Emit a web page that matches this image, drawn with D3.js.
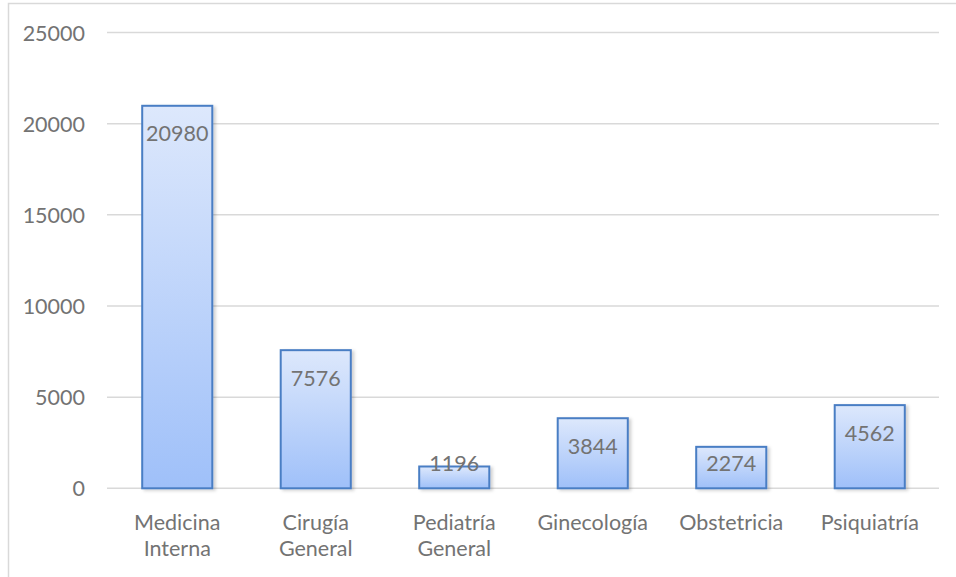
<!DOCTYPE html>
<html><head><meta charset="utf-8">
<script src="https://cdn.jsdelivr.net/npm/d3@7"></script>
<style>html,body{margin:0;padding:0;background:#fff;}svg{display:block;}</style>
</head><body>
<script>
const categories = [["Medicina","Interna"],["Cirugía","General"],["Pediatría","General"],["Ginecología"],["Obstetricia"],["Psiquiatría"]];
const values = [20980, 7576, 1196, 3844, 2274, 4562];
const yTicks = [0, 5000, 10000, 15000, 20000, 25000];

const W = 956, H = 577;
const svg = d3.select("body").append("svg").attr("width", W).attr("height", H);
const defs = svg.append("defs");
const grad = defs.append("linearGradient").attr("id","barGrad").attr("x1",0).attr("y1",0).attr("x2",0).attr("y2",1);
grad.append("stop").attr("offset","0%").attr("stop-color","#dde8fc");
grad.append("stop").attr("offset","100%").attr("stop-color","#9fc0f9");
const f = defs.append("filter").attr("id","shadow").attr("x","-20%").attr("y","-20%").attr("width","150%").attr("height","150%");
f.append("feDropShadow").attr("dx",2.5).attr("dy",1.5).attr("stdDeviation",1.5).attr("flood-color","#000").attr("flood-opacity",0.18);

// outer chart border
svg.append("rect").attr("x",8.5).attr("y",3.5).attr("width",W).attr("height",H+10)
  .attr("fill","#fff").attr("stroke","#d9d9d9").attr("stroke-width",1.5);

const font = "Lato, 'Open Sans', sans-serif";
const fs = "21.5px";
const txtColor = "#737373";
const x = d3.scaleBand().domain(categories.map((c,i)=>i)).range([108, 939]).paddingInner(0.494).paddingOuter(0.247);
const y = d3.scaleLinear().domain([0, 25000]).range([488.3, 32.5]);

// gridlines
svg.append("g").selectAll("line").data(yTicks).join("line")
  .attr("x1",107).attr("x2",939).attr("y1",d=>y(d)).attr("y2",d=>y(d))
  .attr("stroke","#d9d9d9").attr("stroke-width",1.5);

// y axis labels
const yAxis = d3.axisLeft(y).tickValues(yTicks).tickSize(0).tickPadding(0).tickFormat(d3.format("d"));
const gy = svg.append("g").attr("transform","translate(85,0)").call(yAxis);
gy.select(".domain").remove();
gy.selectAll("text").attr("font-family",font).attr("font-size",fs).attr("fill",txtColor).attr("dy","0.35em");

// bars
svg.append("g").selectAll("rect").data(values).join("rect")
  .attr("x",(d,i)=>x(i)).attr("width",x.bandwidth())
  .attr("y",d=>y(d)).attr("height",d=>y(0)-y(d))
  .attr("fill","url(#barGrad)").attr("stroke","#4a7ec4").attr("stroke-width",2)
  .attr("filter","url(#shadow)");

// value labels
svg.append("g").selectAll("text").data(values).join("text")
  .attr("x",(d,i)=>x(i)+x.bandwidth()/2)
  .attr("y",d=>Math.min(y(d)+28, y(0)-25))
  .attr("dy","0.35em").attr("text-anchor","middle")
  .attr("font-family",font).attr("font-size",fs).attr("fill",txtColor)
  .text(d=>d);

// category labels
const gx = svg.append("g").selectAll("text").data(categories).join("text")
  .attr("x",(d,i)=>x(i)+x.bandwidth()/2).attr("y",522)
  .attr("text-anchor","middle").attr("font-family",font).attr("font-size",fs).attr("fill",txtColor);
gx.selectAll("tspan").data(d=>d).join("tspan")
  .attr("x",function(){return d3.select(this.parentNode).attr("x");})
  .attr("dy",(d,i)=> i===0 ? "0.35em" : "26.5px")
  .text(d=>d);
</script>
</body></html>
